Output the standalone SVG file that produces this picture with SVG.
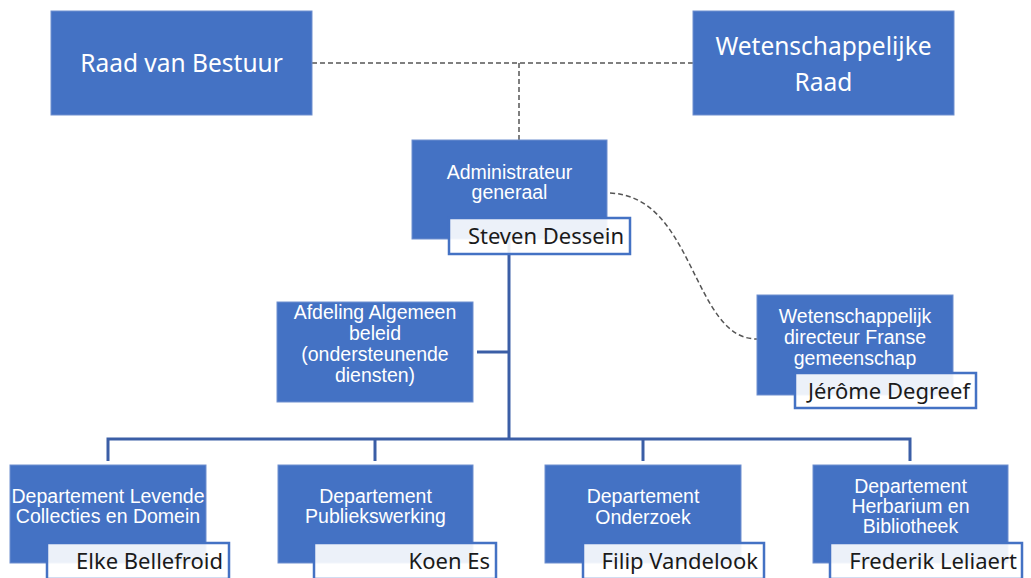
<svg xmlns="http://www.w3.org/2000/svg" width="1031" height="578" viewBox="0 0 1031 578">
<style>
.box{fill:#4472C4;stroke:#6F8FCF;stroke-width:1}
.lbl{fill:#ffffff;fill-opacity:0.9;stroke:#4472C4;stroke-width:2.5}
.t{font-family:"Liberation Sans",Arial,sans-serif;font-size:19.5px;fill:#ffffff;text-anchor:middle}
.big{font-family:"Noto Sans","Open Sans",sans-serif;font-size:24.5px;fill:#ffffff;text-anchor:middle}
.n{font-family:"Noto Sans","Open Sans",sans-serif;font-size:22px;fill:#1a1a1a;text-anchor:end}
.solid{stroke:#3B5EA6;stroke-width:3;fill:none}
.dash{stroke:#555555;stroke-width:1.5;stroke-dasharray:5 3;fill:none}
</style>
<rect width="1031" height="578" fill="#ffffff"/>
<g id="connectors">
<path class="dash" d="M312,63 H693"/>
<path class="dash" d="M519,63 V140"/>
<path class="dash" d="M610,193 C650,195 670,225 690,265 C710,305 725,339 757,339"/>
<path class="solid" d="M509,239 V439"/>
<path class="solid" d="M477,352 H509"/>
<path class="solid" d="M108,461 V439 H910 V461"/>
<path class="solid" d="M375,439 V461"/>
<path class="solid" d="M643,439 V461"/>
</g>
<g id="raad-van-bestuur">
<rect class="box" x="51" y="11" width="261" height="104"/>
<text class="big" x="181.5" y="72">Raad van Bestuur</text>
</g>
<g id="wetenschappelijke-raad">
<rect class="box" x="693" y="11" width="261" height="104"/>
<text class="big" x="823.5" y="55">Wetenschappelijke</text>
<text class="big" x="823.5" y="91">Raad</text>
</g>
<g id="administrateur">
<rect class="box" x="412" y="140" width="195" height="99"/>
<text class="t" x="509.5" y="179">Administrateur</text>
<text class="t" x="509.5" y="199">generaal</text>
<rect class="lbl" x="449" y="218" width="181" height="36"/>
<text class="n" x="624" y="244">Steven Dessein</text>
</g>
<g id="afdeling-algemeen-beleid">
<rect class="box" x="277" y="302" width="196" height="100"/>
<text class="t" x="375" y="319">Afdeling Algemeen</text>
<text class="t" x="375" y="340">beleid</text>
<text class="t" x="375" y="361">(ondersteunende</text>
<text class="t" x="375" y="382">diensten)</text>
</g>
<g id="wetenschappelijk-directeur">
<rect class="box" x="757" y="295" width="196" height="100"/>
<text class="t" x="855" y="323">Wetenschappelijk</text>
<text class="t" x="855" y="344">directeur Franse</text>
<text class="t" x="855" y="365">gemeenschap</text>
<rect class="lbl" x="795" y="373" width="181" height="35"/>
<text class="n" x="970" y="399">Jérôme Degreef</text>
</g>
<g id="dep-levende-collecties">
<rect class="box" x="10" y="465" width="196" height="98"/>
<text class="t" x="108" y="503">Departement Levende</text>
<text class="t" x="108" y="523">Collecties en Domein</text>
<rect class="lbl" x="47" y="543" width="182" height="36"/>
<text class="n" x="223" y="569">Elke Bellefroid</text>
</g>
<g id="dep-publiekswerking">
<rect class="box" x="278" y="465" width="195" height="98"/>
<text class="t" x="375.5" y="503">Departement</text>
<text class="t" x="375.5" y="523">Publiekswerking</text>
<rect class="lbl" x="314" y="543" width="182" height="36"/>
<text class="n" x="490" y="569">Koen Es</text>
</g>
<g id="dep-onderzoek">
<rect class="box" x="545" y="465" width="196" height="98"/>
<text class="t" x="643" y="503">Departement</text>
<text class="t" x="643" y="524">Onderzoek</text>
<rect class="lbl" x="583" y="543" width="181" height="36"/>
<text class="n" x="758" y="569">Filip Vandelook</text>
</g>
<g id="dep-herbarium">
<rect class="box" x="813" y="465" width="195" height="98"/>
<text class="t" x="910.5" y="493">Departement</text>
<text class="t" x="910.5" y="513">Herbarium en</text>
<text class="t" x="910.5" y="533">Bibliotheek</text>
<rect class="lbl" x="830" y="543" width="192" height="36"/>
<text class="n" x="1017" y="569">Frederik Leliaert</text>
</g>
</svg>
